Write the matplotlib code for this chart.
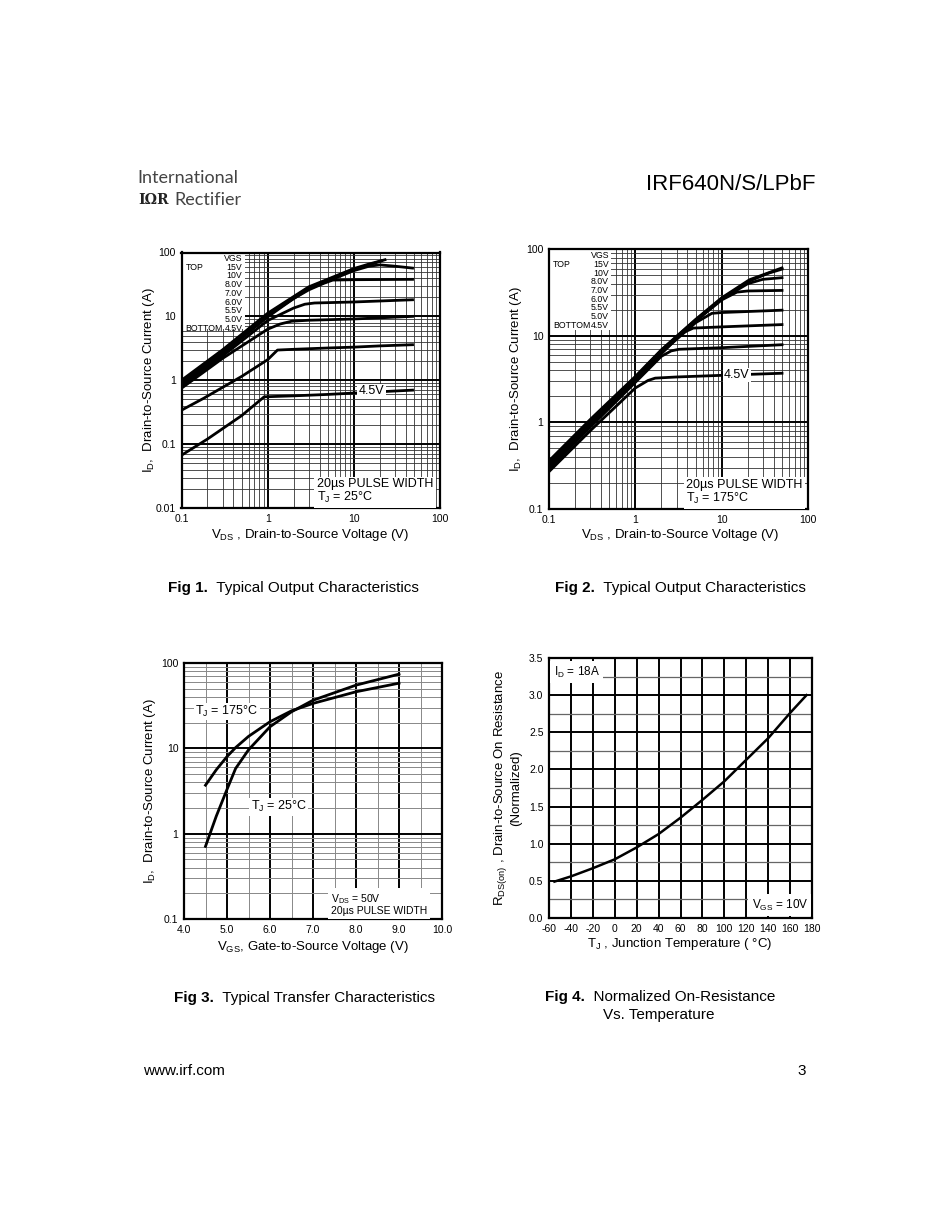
import numpy as np
import matplotlib
matplotlib.use('Agg')
import matplotlib.pyplot as plt
from matplotlib.ticker import NullFormatter, LogLocator, MultipleLocator
from matplotlib.patches import Rectangle

plt.rcParams['font.family'] = ['Liberation Sans', 'DejaVu Sans']
plt.rcParams['mathtext.default'] = 'regular'
plt.rcParams['axes.unicode_minus'] = False

# ---------------- Fig 1 data (TJ = 25 C) ----------------
vgs_labels = ["15V", "10V", "8.0V", "7.0V", "6.0V", "5.5V", "5.0V", "4.5V"]
f1_vds_15 = [0.1, 0.3, 1, 3, 10, 15, 23]
f1_id_15 = [1.0, 3.0, 11.2, 29, 56, 66, 77]
f1_vds_10 = [0.1, 0.3, 1, 3, 10, 15, 21]
f1_id_10 = [0.95, 2.9, 10.8, 28, 54, 64, 74]
f1_vds_8 = [0.1, 0.3, 1, 3, 10, 15, 20, 30, 48]
f1_id_8 = [0.9, 2.8, 10.4, 27, 52, 61, 64, 61, 57]
f1_vds_7 = [0.1, 0.3, 1, 2, 3, 4.5, 5.7, 10, 48]
f1_id_7 = [0.85, 2.6, 9.8, 19, 26, 33, 37, 37.5, 38]
f1_vds_6 = [0.1, 0.3, 1, 2, 2.7, 3.5, 10, 48]
f1_id_6 = [0.8, 2.4, 8.6, 13.5, 15.5, 16.2, 16.8, 18.2]
f1_vds_55 = [0.1, 0.3, 1, 1.4, 1.9, 3, 10, 48]
f1_id_55 = [0.75, 2.2, 6.3, 7.6, 8.4, 8.7, 9.1, 10.0]
f1_vds_5 = [0.1, 0.18, 0.5, 1, 1.3, 2, 5, 10, 20, 48]
f1_id_5 = [0.34, 0.52, 1.15, 2.1, 2.97, 3.05, 3.2, 3.3, 3.45, 3.6]
f1_vds_45 = [0.1, 0.2, 0.5, 0.91, 2, 5, 10, 20, 48]
f1_id_45 = [0.067, 0.12, 0.28, 0.55, 0.57, 0.6, 0.63, 0.66, 0.70]

# ---------------- Fig 2 data (TJ = 175 C) ----------------
f2_vds_15 = [0.1, 0.3, 1, 2, 5, 10, 21, 50]
f2_id_15 = [0.36, 1.08, 3.4, 6.9, 15.5, 27.5, 44.5, 61]
f2_vds_10 = [0.1, 0.3, 1, 2, 5, 10, 21, 35, 50]
f2_id_10 = [0.35, 1.05, 3.3, 6.8, 15.3, 27, 43, 53, 59]
f2_vds_8 = [0.1, 0.3, 1, 2, 5, 10, 20, 30, 50]
f2_id_8 = [0.34, 1.02, 3.25, 6.7, 15, 26.5, 40, 45, 47]
f2_vds_7 = [0.1, 0.3, 1, 2, 5, 10, 15, 20, 50]
f2_id_7 = [0.33, 1.0, 3.2, 6.6, 14.8, 26, 32, 33, 33.5]
f2_vds_6 = [0.1, 0.3, 1, 2, 5, 7.7, 10, 50]
f2_id_6 = [0.32, 0.97, 3.1, 6.4, 14.2, 18.2, 18.6, 19.8]
f2_vds_55 = [0.1, 0.3, 1, 2, 3.5, 4.7, 10, 50]
f2_id_55 = [0.31, 0.94, 3.0, 6.2, 10.8, 12.3, 12.7, 13.5]
f2_vds_5 = [0.1, 0.3, 1, 2, 2.6, 3.2, 10, 50]
f2_id_5 = [0.29, 0.88, 2.9, 5.8, 6.7, 7.0, 7.3, 7.9]
f2_vds_45 = [0.1, 0.3, 1, 1.4, 1.7, 3, 10, 50]
f2_id_45 = [0.27, 0.8, 2.5, 3.05, 3.25, 3.35, 3.5, 3.7]

# ---------------- Fig 3 data (transfer) ----------------
f3_vgs = [4.5, 4.75, 5.0, 5.2, 5.5, 6.0, 6.5, 7.0, 8.0, 9.0]
f3_id_175 = [3.7, 5.6, 8.0, 10.2, 13.8, 20.5, 27.5, 33.6, 46, 58]
f3_id_25 = [0.71, 1.6, 3.3, 5.8, 9.6, 17.9, 26.8, 36.6, 55, 74]

# ---------------- Fig 4 data (normalized RDS(on)) ----------------
f4_tj = [-55, -40, -20, 0, 20, 40, 60, 80, 100, 120, 140, 160, 175]
f4_rds = [0.49, 0.56, 0.67, 0.79, 0.95, 1.13, 1.35, 1.59, 1.84, 2.13, 2.42, 2.76, 3.0]

fig = plt.figure(figsize=(9.5, 12.3), dpi=100)
W, H = 950.0, 1230.0


def fx(x):
    return x / W


def fy(y):
    return 1 - y / H


def px_axes(l, t, r, b):
    return fig.add_axes([l / W, 1 - b / H, (r - l) / W, (b - t) / H])


TICK = 7.5


def style(ax):
    for s in ax.spines.values():
        s.set_linewidth(1.6)
        s.set_zorder(5)
    ax.tick_params(which='both', length=0, labelsize=TICK, pad=4)
    ax.set_axisbelow(True)


def loggrid(ax):
    ax.grid(which='major', color='black', lw=1.4)
    ax.grid(which='minor', color='#333333', lw=0.6)


CW = 2.0

# ================= Fig 1 =================
ax1 = px_axes(181.5, 252.5, 440, 508)
ax1.set_xscale('log')
ax1.set_yscale('log')
ax1.set_xlim(0.1, 100)
ax1.set_ylim(0.01, 100)
f1_sets = [(f1_vds_15, f1_id_15), (f1_vds_10, f1_id_10), (f1_vds_8, f1_id_8),
           (f1_vds_7, f1_id_7), (f1_vds_6, f1_id_6), (f1_vds_55, f1_id_55),
           (f1_vds_5, f1_id_5), (f1_vds_45, f1_id_45)]
for xs, ys in f1_sets:
    ax1.plot(xs, ys, color='black', lw=CW, zorder=3)
ax1.set_xticks([0.1, 1, 10, 100], ['0.1', '1', '10', '100'])
ax1.set_yticks([0.01, 0.1, 1, 10, 100], ['0.01', '0.1', '1', '10', '100'])
ax1.xaxis.set_minor_locator(LogLocator(base=10, subs=np.arange(2, 10)))
ax1.yaxis.set_minor_locator(LogLocator(base=10, subs=np.arange(2, 10)))
ax1.xaxis.set_minor_formatter(NullFormatter())
ax1.yaxis.set_minor_formatter(NullFormatter())
style(ax1)
loggrid(ax1)

# ================= Fig 2 =================
ax2 = px_axes(549, 249.3, 808, 509)
ax2.set_xscale('log')
ax2.set_yscale('log')
ax2.set_xlim(0.1, 100)
ax2.set_ylim(0.1, 100)
f2_sets = [(f2_vds_15, f2_id_15), (f2_vds_10, f2_id_10), (f2_vds_8, f2_id_8),
           (f2_vds_7, f2_id_7), (f2_vds_6, f2_id_6), (f2_vds_55, f2_id_55),
           (f2_vds_5, f2_id_5), (f2_vds_45, f2_id_45)]
for xs, ys in f2_sets:
    ax2.plot(xs, ys, color='black', lw=CW, zorder=3)
ax2.set_xticks([0.1, 1, 10, 100], ['0.1', '1', '10', '100'])
ax2.set_yticks([0.1, 1, 10, 100], ['0.1', '1', '10', '100'])
ax2.xaxis.set_minor_locator(LogLocator(base=10, subs=np.arange(2, 10)))
ax2.yaxis.set_minor_locator(LogLocator(base=10, subs=np.arange(2, 10)))
ax2.xaxis.set_minor_formatter(NullFormatter())
ax2.yaxis.set_minor_formatter(NullFormatter())
style(ax2)
loggrid(ax2)


# legend blocks for fig 1 & 2
def vgs_block(ax, top, step, right, boxw, boxb):
    ax.add_patch(Rectangle((0, boxb), boxw, 1 - boxb, transform=ax.transAxes,
                           facecolor='white', edgecolor='none', zorder=4))
    ax.text(right, top, 'VGS', transform=ax.transAxes, ha='right', va='center',
            fontsize=6.3, zorder=6)
    for i, lab in enumerate(vgs_labels):
        ax.text(right, top - (i + 1) * step, lab, transform=ax.transAxes,
                ha='right', va='center', fontsize=6.3, zorder=6)
    ax.text(0.015, top - step, 'TOP', transform=ax.transAxes, ha='left',
            va='center', fontsize=6.3, zorder=6)
    ax.text(0.015, top - 8 * step, 'BOTTOM', transform=ax.transAxes, ha='left',
            va='center', fontsize=6.3, zorder=6)


vgs_block(ax1, 0.977, 0.0342, 0.236, 0.245, 0.70)
vgs_block(ax2, 0.975, 0.0335, 0.232, 0.24, 0.69)

box = dict(facecolor='white', edgecolor='none', pad=1.0)
ax1.text(0.525, 0.01, '20µs PULSE WIDTH\nT$_J$ = 25°C', transform=ax1.transAxes,
         ha='left', va='bottom', fontsize=9, linespacing=1.0, zorder=6,
         bbox=dict(facecolor='white', edgecolor='none', pad=2.0))
ax2.text(0.53, 0.012, '20µs PULSE WIDTH\nT$_J$ = 175°C', transform=ax2.transAxes,
         ha='left', va='bottom', fontsize=9, linespacing=1.0, zorder=6,
         bbox=dict(facecolor='white', edgecolor='none', pad=2.0))
ax1.text(16, 0.67, '4.5V', ha='center', va='center', fontsize=9, zorder=6, bbox=box)
ax2.text(15, 3.52, '4.5V', ha='center', va='center', fontsize=9, zorder=6, bbox=box)

# ================= Fig 3 =================
ax3 = px_axes(184, 663, 442, 919)
ax3.set_yscale('log')
ax3.set_xlim(4.0, 10.0)
ax3.set_ylim(0.1, 100)
ax3.plot(f3_vgs, f3_id_175, color='black', lw=CW, zorder=3)
ax3.plot(f3_vgs, f3_id_25, color='black', lw=CW, zorder=3)
ax3.set_xticks(np.arange(4, 10.01, 1.0), ['%.1f' % v for v in np.arange(4, 10.01, 1.0)])
ax3.xaxis.set_minor_locator(MultipleLocator(0.5))
ax3.set_yticks([0.1, 1, 10, 100], ['0.1', '1', '10', '100'])
ax3.yaxis.set_minor_locator(LogLocator(base=10, subs=np.arange(2, 10)))
ax3.yaxis.set_minor_formatter(NullFormatter())
style(ax3)
ax3.grid(which='major', color='black', lw=1.4)
ax3.grid(which='minor', color='#888888', lw=0.7)
ax3.text(5.0, 27, 'T$_J$ = 175°C', ha='center', va='center', fontsize=9, zorder=6, bbox=box)
ax3.text(6.2, 2.07, 'T$_J$ = 25°C', ha='center', va='center', fontsize=9, zorder=6, bbox=box)
ax3.text(0.57, 0.012, 'V$_{DS}$ = 50V\n20µs PULSE WIDTH', transform=ax3.transAxes,
         ha='left', va='bottom', fontsize=7.5, linespacing=1.0, zorder=6,
         bbox=dict(facecolor='white', edgecolor='none', pad=2.0))

# ================= Fig 4 =================
ax4 = px_axes(549, 658, 812, 918)
ax4.set_xlim(-60, 180)
ax4.set_ylim(0, 3.5)
ax4.plot(f4_tj, f4_rds, color='black', lw=1.8, zorder=3)
ax4.set_xticks(np.arange(-60, 181, 20))
ax4.set_yticks(np.arange(0, 3.51, 0.5), ['%.1f' % v for v in np.arange(0, 3.51, 0.5)])
ax4.yaxis.set_minor_locator(MultipleLocator(0.25))
style(ax4)
ax4.grid(which='major', color='black', lw=1.4)
ax4.grid(which='minor', axis='y', color='#666666', lw=0.9)
ax4.text(0.018, 0.975, 'I$_D$ = 18A', transform=ax4.transAxes, ha='left', va='top',
         fontsize=8.5, zorder=6, bbox=dict(facecolor='white', edgecolor='none', pad=2.5))
ax4.text(0.985, 0.02, 'V$_{GS}$ = 10V', transform=ax4.transAxes, ha='right', va='bottom',
         fontsize=8.5, zorder=6, bbox=dict(facecolor='white', edgecolor='none', pad=2.5))

# ================= axis labels =================
LAB = 9.5
fig.text(fx(310), fy(535), 'V$_{DS}$ , Drain-to-Source Voltage (V)', ha='center', va='center', fontsize=LAB)
fig.text(fx(680), fy(535), 'V$_{DS}$ , Drain-to-Source Voltage (V)', ha='center', va='center', fontsize=LAB)
fig.text(fx(313), fy(947), 'V$_{GS}$, Gate-to-Source Voltage (V)', ha='center', va='center', fontsize=LAB)
fig.text(fx(680), fy(944), 'T$_J$ , Junction Temperature ( °C)', ha='center', va='center', fontsize=LAB)
fig.text(fx(149), fy(380), 'I$_D$,  Drain-to-Source Current (A)', ha='center', va='center',
         rotation=90, fontsize=LAB)
fig.text(fx(516), fy(379), 'I$_D$,  Drain-to-Source Current (A)', ha='center', va='center',
         rotation=90, fontsize=LAB)
fig.text(fx(150), fy(791), 'I$_D$,  Drain-to-Source Current (A)', ha='center', va='center',
         rotation=90, fontsize=LAB)
fig.text(fx(507), fy(788), 'R$_{DS(on)}$ , Drain-to-Source On Resistance\n(Normalized)',
         ha='center', va='center', rotation=90, fontsize=LAB, multialignment='center',
         linespacing=1.05)

# ================= captions =================
CAP = 11


def caption(x, y, bold, rest):
    t = fig.text(fx(x), fy(y), bold, ha='left', va='center', fontsize=CAP, fontweight='bold')
    plt.annotate('  ' + rest, xy=(1, 0.5), xycoords=t, ha='left', va='center',
                 fontsize=CAP, annotation_clip=False)


caption(168, 588, 'Fig 1.', 'Typical Output Characteristics')
caption(555, 588, 'Fig 2.', 'Typical Output Characteristics')
caption(174, 998, 'Fig 3.', 'Typical Transfer Characteristics')
caption(545, 997, 'Fig 4.', 'Normalized On-Resistance')
fig.text(fx(603), fy(1015), 'Vs. Temperature', ha='left', va='center', fontsize=CAP)

# ================= header / footer =================
fig.text(fx(815), fy(185), 'IRF640N/S/LPbF', ha='right', va='center', fontsize=16)
fig.text(fx(137), fy(178), 'International', ha='left', va='center', fontsize=13,
         family=['Lato', 'DejaVu Sans'], color='#444444')
fig.text(fx(138), fy(200), 'IΩR', ha='left', va='center', fontsize=10,
         family=['DejaVu Serif'], fontweight='bold', color='#222222')
fig.text(fx(174), fy(200), 'Rectifier', ha='left', va='center', fontsize=13,
         family=['Lato', 'DejaVu Sans'], color='#444444')
fig.text(fx(143), fy(1071), 'www.irf.com', ha='left', va='center', fontsize=11)
fig.text(fx(806), fy(1071), '3', ha='right', va='center', fontsize=11)

fig.savefig('out.png', dpi=100, facecolor='white')
